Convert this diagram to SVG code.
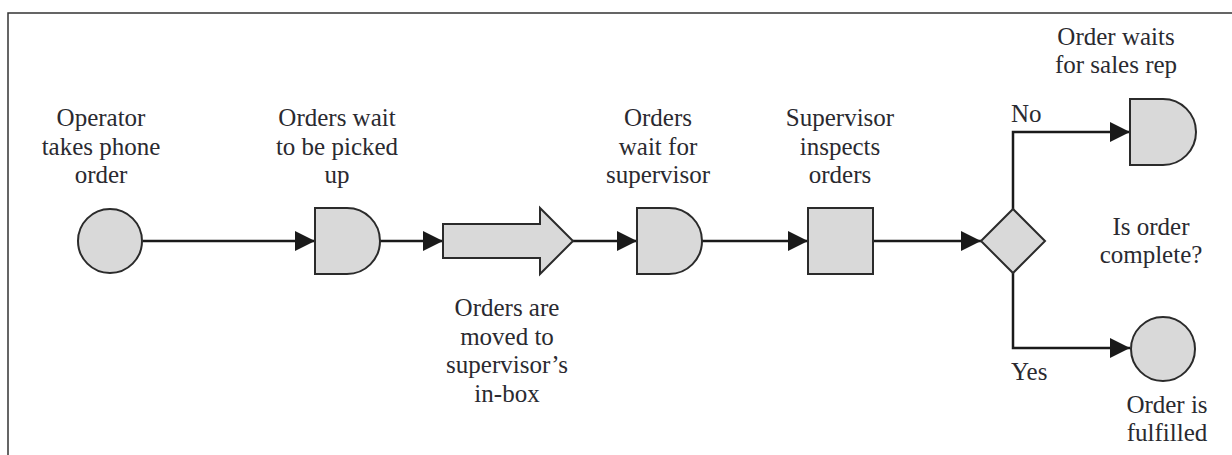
<svg xmlns="http://www.w3.org/2000/svg" width="1232" height="455" viewBox="0 0 1232 455">
<style>
.shape{fill:#d9d9d9;stroke:#2b2b2b;stroke-width:2}
.conn{fill:none;stroke:#1a1a1a;stroke-width:2.5;marker-end:url(#ah)}
.lbl{font-family:"Liberation Serif","Times New Roman",serif;font-size:25px;fill:#2a2a30;text-anchor:middle}
.lbl.start{text-anchor:start}
.frame{fill:none;stroke:#333;stroke-width:1.5}
</style>
<defs>
<marker id="ah" markerUnits="userSpaceOnUse" markerWidth="20" markerHeight="20" refX="20" refY="10" orient="auto">
<path d="M0,0 L20,10 L0,20 Z" fill="#1a1a1a"/>
</marker>
</defs>
<rect width="1232" height="455" fill="#ffffff"/>
<path class="frame" d="M8,455 V13 H1232"/>
<g id="connectors">
<path class="conn" d="M143,241 H315"/>
<path class="conn" d="M380,241 H443"/>
<path class="conn" d="M573,241 H637"/>
<path class="conn" d="M702,241 H808"/>
<path class="conn" d="M873,241 H981"/>
<path class="conn" d="M1013,209 V132 H1130"/>
<path class="conn" d="M1013,273 V348 H1130"/>
</g>
<g id="n_operator">
<circle class="shape" cx="110" cy="241" r="32"/>
<text class="lbl" x="101" y="126">Operator</text>
<text class="lbl" x="101" y="155">takes phone</text>
<text class="lbl" x="101" y="183">order</text>
</g>
<g id="n_wait_pickup">
<path class="shape" d="M315,208 H347 A33,33 0 0 1 347,274 H315 Z"/>
<text class="lbl" x="337" y="126">Orders wait</text>
<text class="lbl" x="337" y="155">to be picked</text>
<text class="lbl" x="337" y="183">up</text>
</g>
<g id="n_move">
<path class="shape" d="M443,224 H540 V208 L573,241 L540,274 V258 H443 Z"/>
<text class="lbl" x="507" y="316">Orders are</text>
<text class="lbl" x="507" y="345">moved to</text>
<text class="lbl" x="507" y="373">supervisor’s</text>
<text class="lbl" x="507" y="402">in-box</text>
</g>
<g id="n_wait_supervisor">
<path class="shape" d="M637,208 H669 A33,33 0 0 1 669,274 H637 Z"/>
<text class="lbl" x="658" y="126">Orders</text>
<text class="lbl" x="658" y="155">wait for</text>
<text class="lbl" x="658" y="183">supervisor</text>
</g>
<g id="n_inspect">
<rect class="shape" x="808" y="208" width="65" height="66"/>
<text class="lbl" x="840" y="126">Supervisor</text>
<text class="lbl" x="840" y="155">inspects</text>
<text class="lbl" x="840" y="183">orders</text>
</g>
<g id="n_decision">
<path class="shape" d="M981,241 L1013,209 L1045,241 L1013,273 Z"/>
<text class="lbl" x="1151" y="235">Is order</text>
<text class="lbl" x="1151" y="263">complete?</text>
<text class="lbl start" x="1011" y="122">No</text>
<text class="lbl start" x="1011" y="380">Yes</text>
</g>
<g id="n_wait_salesrep">
<path class="shape" d="M1130,99 H1163 A33,33 0 0 1 1163,165 H1130 Z"/>
<text class="lbl" x="1116" y="45">Order waits</text>
<text class="lbl" x="1116" y="73">for sales rep</text>
</g>
<g id="n_fulfilled">
<circle class="shape" cx="1163" cy="349" r="32"/>
<text class="lbl" x="1167" y="413">Order is</text>
<text class="lbl" x="1167" y="441">fulfilled</text>
</g>
</svg>
